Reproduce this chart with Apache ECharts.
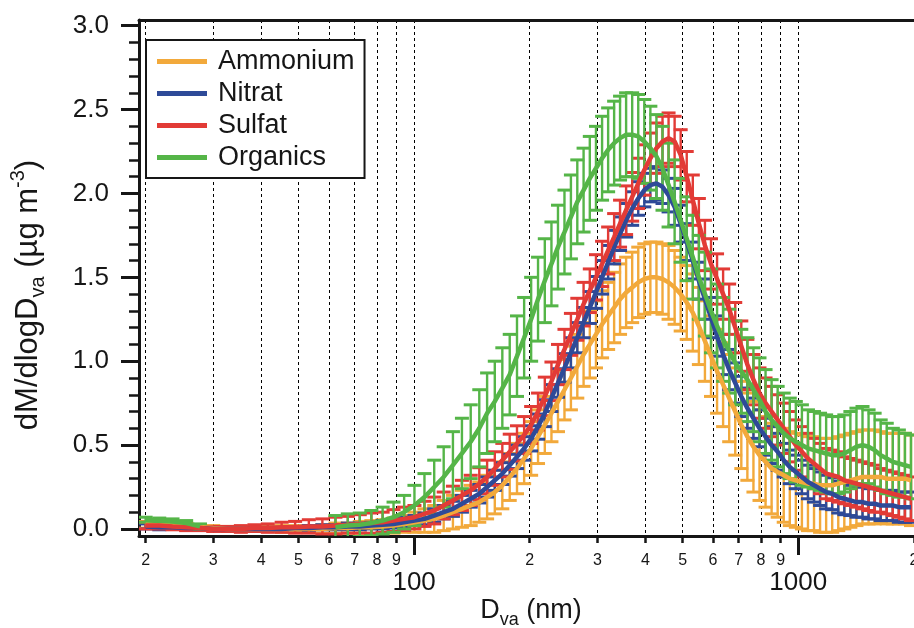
<!DOCTYPE html>
<html>
<head>
<meta charset="utf-8">
<script src="https://cdn.jsdelivr.net/npm/echarts@6/dist/echarts.min.js"></script>
<style>
html,body{margin:0;padding:0;background:#fff;}
#chart{width:914px;height:628px;}
</style>
</head>
<body>
<div id="chart"></div>
<script>
// ---------- data ----------
const diameters = [
  20.0, 21.7, 23.5, 25.5, 27.7, 30.0, 32.6, 35.4, 38.4, 41.6, 45.2, 49.0, 53.2, 57.7,
  62.4, 67.2, 72.2, 77.4, 82.8, 88.4, 94.2, 100.2, 106.4, 112.8, 119.4, 126.2, 133.2, 140.4, 147.8,
  154.9, 162.2, 169.7, 177.4, 185.3, 193.4, 201.7, 210.2, 218.9, 227.8, 236.9, 246.3, 256.0, 266.0, 276.2, 286.7, 297.5, 308.6, 320.0, 331.7, 343.7,
  356.4, 369.6, 383.3, 397.5, 412.2, 427.5, 443.3, 459.7, 476.7, 494.3,
  512.6, 531.6, 551.3, 571.7, 592.9, 614.8, 637.5, 661.1, 685.6, 711.0,
  737.3, 764.6, 792.9, 822.2, 852.6, 884.1, 916.8, 950.7, 985.9, 1022.4,
  1060.2, 1099.4, 1140.1, 1182.3, 1226.0, 1271.4, 1318.4, 1367.2, 1417.8, 1470.3,
  1524.7, 1581.1, 1639.6, 1700.3, 1763.2, 1828.4, 1896.0, 1966.2
];

const ammoniumMean = [
  0.025, 0.02, 0.02, 0.015, 0.01, 0.005, 0, 0, 0, 0, 0, 0, 0, 0,
  0.005, 0.005, 0.01, 0.01, 0.015, 0.02, 0.03, 0.04, 0.05, 0.06, 0.08, 0.10, 0.12, 0.14, 0.16,
  0.19, 0.22, 0.26, 0.31, 0.36, 0.42, 0.48, 0.55, 0.62, 0.69, 0.76, 0.83, 0.90, 0.97, 1.04, 1.10, 1.16, 1.22, 1.27, 1.32, 1.37,
  1.41, 1.44, 1.47, 1.49, 1.50, 1.50, 1.49, 1.47, 1.44, 1.40,
  1.35, 1.29, 1.21, 1.12, 1.03, 0.94, 0.86, 0.78, 0.70, 0.62,
  0.55, 0.49, 0.44, 0.40, 0.36, 0.34, 0.32, 0.30, 0.29, 0.28,
  0.27, 0.27, 0.26, 0.26, 0.26, 0.27, 0.28, 0.29, 0.30, 0.31,
  0.31, 0.31, 0.31, 0.30, 0.30, 0.30, 0.30, 0.29
];
const ammoniumErr = [
  0.02, 0.02, 0.02, 0.02, 0.015, 0.015, 0.015, 0.015, 0.015, 0.015, 0.02, 0.02, 0.02, 0.025,
  0.03, 0.03, 0.035, 0.04, 0.04, 0.045, 0.05, 0.06, 0.07, 0.08, 0.09, 0.10, 0.11, 0.12, 0.12,
  0.13, 0.13, 0.14, 0.14, 0.15, 0.15, 0.16, 0.16, 0.17, 0.17, 0.18, 0.18, 0.19, 0.19, 0.19, 0.20, 0.20, 0.20, 0.20, 0.21, 0.21,
  0.21, 0.21, 0.21, 0.21, 0.21, 0.21, 0.21, 0.22, 0.22, 0.22,
  0.22, 0.23, 0.23, 0.24, 0.24, 0.25, 0.25, 0.26, 0.26, 0.26,
  0.26, 0.27, 0.27, 0.27, 0.27, 0.27, 0.28, 0.28, 0.28, 0.28,
  0.28, 0.28, 0.28, 0.28, 0.28, 0.28, 0.28, 0.28, 0.28, 0.28,
  0.28, 0.28, 0.27, 0.27, 0.27, 0.27, 0.27, 0.27
];

const nitratMean = [
  0.015, 0.01, 0.01, 0.005, 0.005, 0, 0, 0, 0, 0, 0, 0.005, 0.005, 0.01,
  0.01, 0.015, 0.015, 0.02, 0.025, 0.03, 0.04, 0.05, 0.06, 0.08, 0.10, 0.12, 0.15, 0.18, 0.21,
  0.25, 0.29, 0.33, 0.38, 0.43, 0.48, 0.54, 0.61, 0.69, 0.78, 0.87, 0.96, 1.05, 1.14, 1.23, 1.32, 1.41, 1.50, 1.59, 1.68, 1.76,
  1.84, 1.91, 1.97, 2.02, 2.05, 2.06, 2.04, 1.99, 1.92, 1.82,
  1.71, 1.60, 1.48, 1.37, 1.26, 1.15, 1.04, 0.95, 0.87, 0.79,
  0.72, 0.66, 0.60, 0.55, 0.50, 0.46, 0.41, 0.37, 0.34, 0.31,
  0.28, 0.26, 0.24, 0.22, 0.21, 0.19, 0.18, 0.17, 0.16, 0.16,
  0.15, 0.15, 0.14, 0.14, 0.14, 0.13, 0.13, 0.13
];
const nitratErr = [
  0.015, 0.015, 0.01, 0.01, 0.01, 0.01, 0.01, 0.01, 0.01, 0.01, 0.01, 0.01, 0.015, 0.015,
  0.015, 0.02, 0.02, 0.02, 0.025, 0.025, 0.03, 0.03, 0.035, 0.04, 0.04, 0.045, 0.05, 0.05, 0.055,
  0.06, 0.06, 0.065, 0.065, 0.07, 0.07, 0.075, 0.075, 0.08, 0.08, 0.085, 0.085, 0.09, 0.09, 0.09, 0.095, 0.095, 0.10, 0.10, 0.10, 0.10,
  0.10, 0.10, 0.10, 0.10, 0.10, 0.10, 0.10, 0.10, 0.11, 0.11,
  0.11, 0.11, 0.11, 0.12, 0.12, 0.12, 0.12, 0.12, 0.12, 0.12,
  0.12, 0.12, 0.11, 0.11, 0.11, 0.11, 0.10, 0.10, 0.10, 0.10,
  0.10, 0.10, 0.10, 0.10, 0.095, 0.095, 0.095, 0.09, 0.09, 0.09,
  0.09, 0.09, 0.09, 0.09, 0.09, 0.09, 0.09, 0.09
];

const sulfatMean = [
  0.02, 0.02, 0.015, 0.01, 0.005, 0, 0, 0, 0.005, 0.005, 0.01, 0.01, 0.015, 0.015,
  0.02, 0.025, 0.03, 0.035, 0.04, 0.05, 0.06, 0.07, 0.09, 0.11, 0.14, 0.17, 0.20, 0.23, 0.27,
  0.31, 0.36, 0.41, 0.46, 0.51, 0.56, 0.62, 0.70, 0.79, 0.88, 0.98, 1.07, 1.16, 1.25, 1.34, 1.42, 1.50, 1.58, 1.66, 1.74, 1.82,
  1.90, 1.98, 2.06, 2.14, 2.21, 2.27, 2.31, 2.33, 2.31, 2.23,
  2.10, 1.96, 1.82, 1.69, 1.58, 1.49, 1.40, 1.31, 1.20, 1.09,
  0.98, 0.89, 0.81, 0.75, 0.70, 0.65, 0.60, 0.55, 0.50, 0.46,
  0.42, 0.39, 0.36, 0.33, 0.32, 0.31, 0.29, 0.28, 0.27, 0.26,
  0.25, 0.24, 0.23, 0.22, 0.21, 0.20, 0.19, 0.18
];
const sulfatErr = [
  0.02, 0.02, 0.02, 0.02, 0.015, 0.015, 0.015, 0.02, 0.02, 0.025, 0.03, 0.035, 0.04, 0.045,
  0.05, 0.05, 0.055, 0.06, 0.06, 0.065, 0.07, 0.07, 0.075, 0.08, 0.08, 0.085, 0.09, 0.09, 0.095,
  0.10, 0.10, 0.10, 0.105, 0.105, 0.11, 0.11, 0.11, 0.115, 0.115, 0.12, 0.12, 0.125, 0.125, 0.13, 0.13, 0.135, 0.135, 0.14, 0.14, 0.14,
  0.145, 0.145, 0.15, 0.15, 0.15, 0.15, 0.15, 0.15, 0.15, 0.15,
  0.15, 0.15, 0.15, 0.15, 0.15, 0.15, 0.15, 0.15, 0.15, 0.15,
  0.15, 0.15, 0.15, 0.15, 0.15, 0.15, 0.15, 0.15, 0.15, 0.15,
  0.15, 0.15, 0.15, 0.15, 0.15, 0.15, 0.14, 0.14, 0.14, 0.14,
  0.14, 0.14, 0.13, 0.13, 0.13, 0.13, 0.13, 0.13
];

const organicsMean = [
  0.055, 0.05, 0.045, 0.035, 0.015, null, null, null, null, null, null, null, null, null,
  0.01, 0.02, 0.025, 0.035, 0.05, 0.07, 0.10, 0.14, 0.19, 0.25, 0.31, 0.38, 0.45, 0.52, 0.60,
  0.69, 0.76, 0.84, 0.92, 1.03, 1.14, 1.25, 1.37, 1.48, 1.58, 1.68, 1.77, 1.86, 1.95, 2.02, 2.09, 2.15, 2.21, 2.26, 2.30, 2.33,
  2.35, 2.35, 2.34, 2.31, 2.27, 2.22, 2.15, 2.05, 1.95, 1.84,
  1.73, 1.62, 1.50, 1.40, 1.30, 1.21, 1.13, 1.06, 0.99, 0.94,
  0.89, 0.83, 0.77, 0.70, 0.65, 0.61, 0.57, 0.54, 0.52, 0.50,
  0.48, 0.47, 0.46, 0.45, 0.44, 0.44, 0.45, 0.47, 0.49, 0.50,
  0.49, 0.47, 0.44, 0.42, 0.40, 0.39, 0.38, 0.37
];
const organicsErr = [
  0.015, 0.015, 0.015, 0.015, 0.015, null, null, null, null, null, null, null, null, null,
  0.07, 0.07, 0.07, 0.075, 0.08, 0.09, 0.10, 0.12, 0.14, 0.16, 0.18, 0.20, 0.21, 0.22, 0.23,
  0.24, 0.24, 0.24, 0.24, 0.24, 0.24, 0.25, 0.25, 0.25, 0.25, 0.25, 0.25, 0.25, 0.25, 0.25, 0.25, 0.25, 0.25, 0.25, 0.25, 0.25,
  0.25, 0.25, 0.25, 0.25, 0.25, 0.25, 0.25, 0.25, 0.25, 0.25,
  0.25, 0.25, 0.25, 0.25, 0.25, 0.25, 0.25, 0.25, 0.25, 0.25,
  0.25, 0.25, 0.25, 0.25, 0.24, 0.24, 0.24, 0.24, 0.24, 0.24,
  0.23, 0.23, 0.23, 0.23, 0.23, 0.23, 0.23, 0.23, 0.23, 0.23,
  0.22, 0.22, 0.21, 0.21, 0.20, 0.20, 0.19, 0.19
];

const seriesNames = ['Ammonium', 'Nitrat', 'Sulfat', 'Organics'];

// tick values and labels
const xMinorTicks = [20, 30, 40, 50, 60, 70, 80, 90, 200, 300, 400, 500, 600, 700, 800, 900, 2000];
const xMinorLabels = ['2', '3', '4', '5', '6', '7', '8', '9', '2', '3', '4', '5', '6', '7', '8', '9', '2'];
const xMajorTicks = [100, 1000];
const xMajorLabels = ['100', '1000'];
const yMajorTicks = [0, 0.5, 1.0, 1.5, 2.0, 2.5, 3.0];
const yMajorLabels = ['0.0', '0.5', '1.0', '1.5', '2.0', '2.5', '3.0'];
const yMinorTicks = [0.1, 0.2, 0.3, 0.4, 0.6, 0.7, 0.8, 0.9, 1.1, 1.2, 1.3, 1.4, 1.6, 1.7, 1.8, 1.9, 2.1, 2.2, 2.3, 2.4, 2.6, 2.7, 2.8, 2.9];

// ---------- styling ----------
const FONT = '"Liberation Sans", Arial, Helvetica, sans-serif';
const INK = '#161616';
const colors = { Ammonium: '#F2A93B', Nitrat: '#2E4A98', Sulfat: '#E23B36', Organics: '#55B548' };
const X_MIN = 19.22, X_MAX = 2002;
const Y_MIN = -0.042, Y_MAX = 3.034;

function lookupLabel(ticks, labels) {
  return function (v) {
    for (let i = 0; i < ticks.length; i++) {
      if (Math.abs(ticks[i] - v) <= Math.abs(ticks[i]) * 1e-6 + 1e-9) return labels[i];
    }
    return '';
  };
}

function errSeries(name, mean, err) {
  const color = colors[name];
  const data = diameters.map((d, i) => [d, mean[i] == null ? NaN : mean[i], err[i] == null ? NaN : err[i]]);
  return {
    type: 'custom',
    name: name + ' error',
    xAxisIndex: 0,
    yAxisIndex: 0,
    data: data,
    clip: true,
    silent: true,
    encode: { x: 0, y: 1 },
    renderItem: function (params, api) {
      const x = api.value(0), m = api.value(1), e = api.value(2);
      if (isNaN(m) || isNaN(e)) return null;
      const top = api.coord([x, m + e]);
      const bot = api.coord([x, m - e]);
      const hw = 7;
      return {
        type: 'group',
        children: [
          { type: 'line', shape: { x1: top[0], y1: top[1], x2: bot[0], y2: bot[1] }, style: { stroke: color, lineWidth: 2.4 } },
          { type: 'line', shape: { x1: top[0] - hw, y1: top[1], x2: top[0] + hw, y2: top[1] }, style: { stroke: color, lineWidth: 3 } },
          { type: 'line', shape: { x1: bot[0] - hw, y1: bot[1], x2: bot[0] + hw, y2: bot[1] }, style: { stroke: color, lineWidth: 3 } }
        ]
      };
    }
  };
}

function lineSeries(name, mean) {
  return {
    type: 'line',
    name: name,
    xAxisIndex: 0,
    yAxisIndex: 0,
    data: diameters.map((d, i) => [d, mean[i]]),
    showSymbol: false,
    symbol: 'none',
    connectNulls: false,
    clip: true,
    lineStyle: { color: colors[name], width: 4.5 },
    itemStyle: { color: colors[name] },
    silent: true
  };
}

const series = [
  errSeries('Ammonium', ammoniumMean, ammoniumErr), lineSeries('Ammonium', ammoniumMean),
  errSeries('Nitrat', nitratMean, nitratErr), lineSeries('Nitrat', nitratMean),
  errSeries('Sulfat', sulfatMean, sulfatErr), lineSeries('Sulfat', sulfatMean),
  errSeries('Organics', organicsMean, organicsErr), lineSeries('Organics', organicsMean)
];

const dotted = { show: true, lineStyle: { color: '#000', width: 1, type: [3, 3] } };

const option = {
  animation: false,
  backgroundColor: '#fff',
  grid: { left: 139, right: 0, top: 20, bottom: 92, containLabel: false, outerBoundsMode: 'none' },
  xAxis: [
    {
      type: 'log', logBase: 10, min: X_MIN, max: X_MAX, position: 'bottom',
      axisLine: { show: true, onZero: false, lineStyle: { color: INK, width: 3 } },
      axisTick: { show: true, customValues: xMinorTicks, length: 7, lineStyle: { color: INK, width: 2.5 } },
      axisLabel: { show: true, customValues: xMinorTicks, formatter: lookupLabel(xMinorTicks, xMinorLabels),
                   fontSize: 16, fontFamily: FONT, color: INK, margin: 17, hideOverlap: false },
      splitLine: dotted, minorTick: { show: false }
    },
    {
      type: 'log', logBase: 10, min: X_MIN, max: X_MAX, position: 'bottom',
      axisLine: { show: false, onZero: false },
      axisTick: { show: true, customValues: xMajorTicks, length: 19, lineStyle: { color: INK, width: 3 } },
      axisLabel: { show: true, customValues: xMajorTicks, formatter: lookupLabel(xMajorTicks, xMajorLabels),
                   fontSize: 26, fontFamily: FONT, color: INK, margin: 34 },
      splitLine: dotted
    },
    {
      type: 'log', logBase: 10, min: X_MIN, max: X_MAX, position: 'top',
      axisLine: { show: true, onZero: false, lineStyle: { color: INK, width: 3 } },
      axisTick: { show: false }, axisLabel: { show: false }, splitLine: { show: false }
    }
  ],
  yAxis: [
    {
      type: 'value', min: Y_MIN, max: Y_MAX, position: 'left',
      axisLine: { show: true, onZero: false, lineStyle: { color: INK, width: 3 } },
      axisTick: { show: true, customValues: yMajorTicks, length: 18, lineStyle: { color: INK, width: 3 } },
      axisLabel: { show: true, customValues: yMajorTicks, formatter: lookupLabel(yMajorTicks, yMajorLabels),
                   fontSize: 26, fontFamily: FONT, color: INK, margin: 30 },
      splitLine: { show: false }
    },
    {
      type: 'value', min: Y_MIN, max: Y_MAX, position: 'left',
      axisLine: { show: false, onZero: false },
      axisTick: { show: true, customValues: yMinorTicks, length: 10, lineStyle: { color: INK, width: 2.5 } },
      axisLabel: { show: false },
      splitLine: { show: false }
    }
  ],
  legend: {
    data: seriesNames,
    orient: 'vertical',
    left: 146, top: 40,
    padding: [8, 10, 7, 11],
    itemGap: 5,
    itemWidth: 50, itemHeight: 5,
    icon: 'rect',
    borderColor: INK, borderWidth: 2,
    backgroundColor: '#fff',
    selectedMode: false,
    textStyle: { fontSize: 27, fontFamily: FONT, color: INK, lineHeight: 26, padding: [0, 0, 0, 6] }
  },
  graphic: [
    {
      type: 'text', x: 28, y: 295, rotation: Math.PI / 2, z: 10,
      style: {
        text: '{a|dM/dlogD}{s|va}{a| (µg m}{p|-3}{a|)}',
        align: 'center', verticalAlign: 'middle', fill: INK,
        rich: {
          a: { fontSize: 31, fontFamily: FONT, fill: INK, lineHeight: 40, verticalAlign: 'middle' },
          s: { fontSize: 20, fontFamily: FONT, fill: INK, lineHeight: 20, verticalAlign: 'bottom' },
          p: { fontSize: 20, fontFamily: FONT, fill: INK, lineHeight: 20, verticalAlign: 'top' }
        }
      }
    },
    {
      type: 'text', x: 531, y: 611, z: 10,
      style: {
        text: '{a|D}{s|va}{a| (nm)}',
        align: 'center', verticalAlign: 'middle', fill: INK,
        rich: {
          a: { fontSize: 27, fontFamily: FONT, fill: INK, lineHeight: 36, verticalAlign: 'middle' },
          s: { fontSize: 18, fontFamily: FONT, fill: INK, lineHeight: 18, verticalAlign: 'bottom' }
        }
      }
    }
  ],
  series: series
};

const chart = echarts.init(document.getElementById('chart'), null, { renderer: 'canvas' });
chart.setOption(option);
</script>
</body>
</html>
